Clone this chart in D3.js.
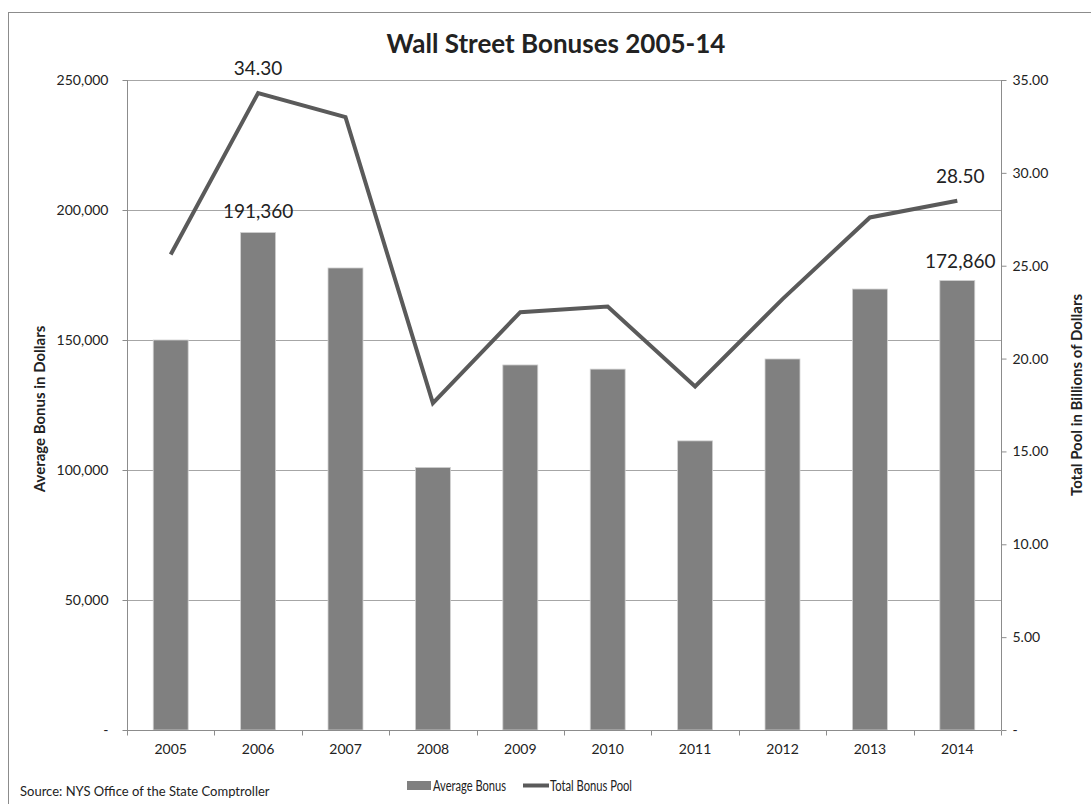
<!DOCTYPE html>
<html>
<head>
<meta charset="utf-8">
<script src="https://cdn.jsdelivr.net/npm/d3@7"></script>
<style>
  body { margin: 0; background: #fff; }
  svg text { font-family: Lato, "Open Sans", sans-serif; fill: #222; }
  .tick text { font-size: 14px; }
  .axis-label { font-size: 15px; font-weight: bold; }
</style>
</head>
<body>
<div id="chart"></div>
<script>
// Data
const years = ["2005", "2006", "2007", "2008", "2009", "2010", "2011", "2012", "2013", "2014"];
const avgBonus = [150000, 191360, 177700, 101000, 140400, 138800, 111200, 142700, 169600, 172860];
const totalPool = [25.6, 34.3, 33.0, 17.6, 22.5, 22.8, 18.5, 23.2, 27.6, 28.5];
const leftTicks = [0, 50000, 100000, 150000, 200000, 250000];
const rightTicks = [0, 5, 10, 15, 20, 25, 30, 35];

const W = 1091, H = 804;
const margin = { top: 80, right: 90, bottom: 74, left: 127 },
    width = 1001 - margin.left,
    height = 730 - margin.top;

const svg = d3.select("#chart").append("svg")
    .attr("width", W)
    .attr("height", H);

// outer frame
svg.append("rect")
    .attr("x", 8.5).attr("y", 12.5)
    .attr("width", 1100).attr("height", 820)
    .attr("fill", "none").attr("stroke", "#8c8c8c");

const g = svg.append("g")
    .attr("transform", `translate(${margin.left},${margin.top})`);

// scales
const x = d3.scaleBand().domain(years).range([0, width]).paddingInner(0).paddingOuter(0);
const yL = d3.scaleLinear().domain([0, 250000]).range([height, 0]);
const yR = d3.scaleLinear().domain([0, 35]).range([height, 0]);

// gridlines
g.append("g").selectAll("line")
    .data(leftTicks.filter(d => d > 0))
    .join("line")
    .attr("x1", 0).attr("x2", width)
    .attr("y1", d => yL(d) + 0.5).attr("y2", d => yL(d) + 0.5)
    .attr("stroke", "#a6a6a6");

// left axis
const fmtL = d => d === 0 ? "-" : d3.format(",")(d);
const leftAxis = g.append("g")
    .attr("transform", "translate(0.5,0)")
    .call(d3.axisLeft(yL).tickValues(leftTicks).tickFormat(fmtL).tickSize(5).tickPadding(14));
leftAxis.selectAll("path, line").attr("stroke", "#8c8c8c");
leftAxis.select(".domain").attr("d", `M0,${yL(250000)}V${height}`);

// right axis
const fmtR = d => d === 0 ? "-" : d3.format(".2f")(d);
const rightAxis = g.append("g")
    .attr("transform", `translate(${width + 0.5},0)`)
    .call(d3.axisRight(yR).tickValues(rightTicks).tickFormat(fmtR).tickSize(5).tickPadding(6));
rightAxis.selectAll("path, line").attr("stroke", "#8c8c8c");
rightAxis.select(".domain").attr("d", `M0,0V${height}`);
rightAxis.selectAll(".tick text").attr("text-anchor", "start").attr("x", 11);

// bars
g.append("g").selectAll("rect")
    .data(years)
    .join("rect")
    .attr("x", d => x(d) + x.bandwidth() * 0.3)
    .attr("width", x.bandwidth() * 0.4)
    .attr("y", (d, i) => yL(avgBonus[i]))
    .attr("height", (d, i) => height - yL(avgBonus[i]))
    .attr("fill", "#808080")
    .attr("stroke", "#d0d0d0")
    .attr("stroke-width", 0.8);

// bottom axis
const xAxis = g.append("g")
    .attr("transform", `translate(0,${height + 0.5})`)
    .call(d3.axisBottom(x).tickSize(0).tickPadding(14));
xAxis.select(".domain").attr("stroke", "#8c8c8c").attr("d", `M0,0H${width}`);
xAxis.selectAll(".tick text").attr("font-size", 14);
// category boundary ticks
xAxis.append("g").selectAll("line")
    .data(d3.range(years.length + 1))
    .join("line")
    .attr("x1", i => Math.round(i * x.step()) + 0.5)
    .attr("x2", i => Math.round(i * x.step()) + 0.5)
    .attr("y1", 0).attr("y2", 5)
    .attr("stroke", "#8c8c8c");

// total bonus pool line
const line = d3.line()
    .x((d, i) => x(years[i]) + x.bandwidth() / 2)
    .y(d => yR(d));
g.append("path")
    .datum(totalPool)
    .attr("d", line)
    .attr("fill", "none")
    .attr("stroke", "#5a5a5a")
    .attr("stroke-width", 4)
    .attr("stroke-linejoin", "miter");

// data labels
const cx = yr => x(yr) + x.bandwidth() / 2;
const labels = [
    { t: d3.format(".2f")(totalPool[1]), x: cx("2006"), y: yR(totalPool[1]) - 18 },
    { t: d3.format(",")(avgBonus[1]), x: cx("2006"), y: yL(avgBonus[1]) - 14 },
    { t: d3.format(".2f")(totalPool[9]), x: cx("2014") + 3, y: yR(totalPool[9]) - 18 },
    { t: d3.format(",")(avgBonus[9]), x: cx("2014") + 3, y: yL(avgBonus[9]) - 13 }
];
g.append("g").selectAll("text")
    .data(labels)
    .join("text")
    .attr("x", d => d.x).attr("y", d => d.y)
    .attr("text-anchor", "middle")
    .attr("font-size", 19)
    .text(d => d.t);

// title
svg.append("text")
    .attr("x", 556).attr("y", 53)
    .attr("text-anchor", "middle")
    .attr("font-size", 26)
    .attr("font-weight", "bold")
    .attr("fill", "#000")
    .text("Wall Street Bonuses 2005-14");

// axis titles
svg.append("text")
    .attr("class", "axis-label")
    .attr("transform", "translate(45,409) rotate(-90)")
    .attr("text-anchor", "middle")
    .text("Average Bonus in Dollars");

svg.append("text")
    .attr("class", "axis-label")
    .attr("transform", "translate(1082,395) rotate(-90)")
    .attr("text-anchor", "middle")
    .text("Total Pool in Billions of Dollars");

// legend
const legend = svg.append("g");
legend.append("rect")
    .attr("x", 407).attr("y", 781).attr("width", 24).attr("height", 9)
    .attr("fill", "#808080");
legend.append("text")
    .attr("x", 433).attr("y", 791).attr("font-size", 15.5)
    .attr("textLength", 73).attr("lengthAdjust", "spacingAndGlyphs")
    .text("Average Bonus");
legend.append("line")
    .attr("x1", 523).attr("x2", 549).attr("y1", 785.5).attr("y2", 785.5)
    .attr("stroke", "#5a5a5a").attr("stroke-width", 4);
legend.append("text")
    .attr("x", 550).attr("y", 791).attr("font-size", 15.5)
    .attr("textLength", 82).attr("lengthAdjust", "spacingAndGlyphs")
    .text("Total Bonus Pool");

// source
svg.append("text")
    .attr("x", 20).attr("y", 796)
    .attr("font-size", 13)
    .text("Source: NYS Office of the State Comptroller");
</script>
</body>
</html>
